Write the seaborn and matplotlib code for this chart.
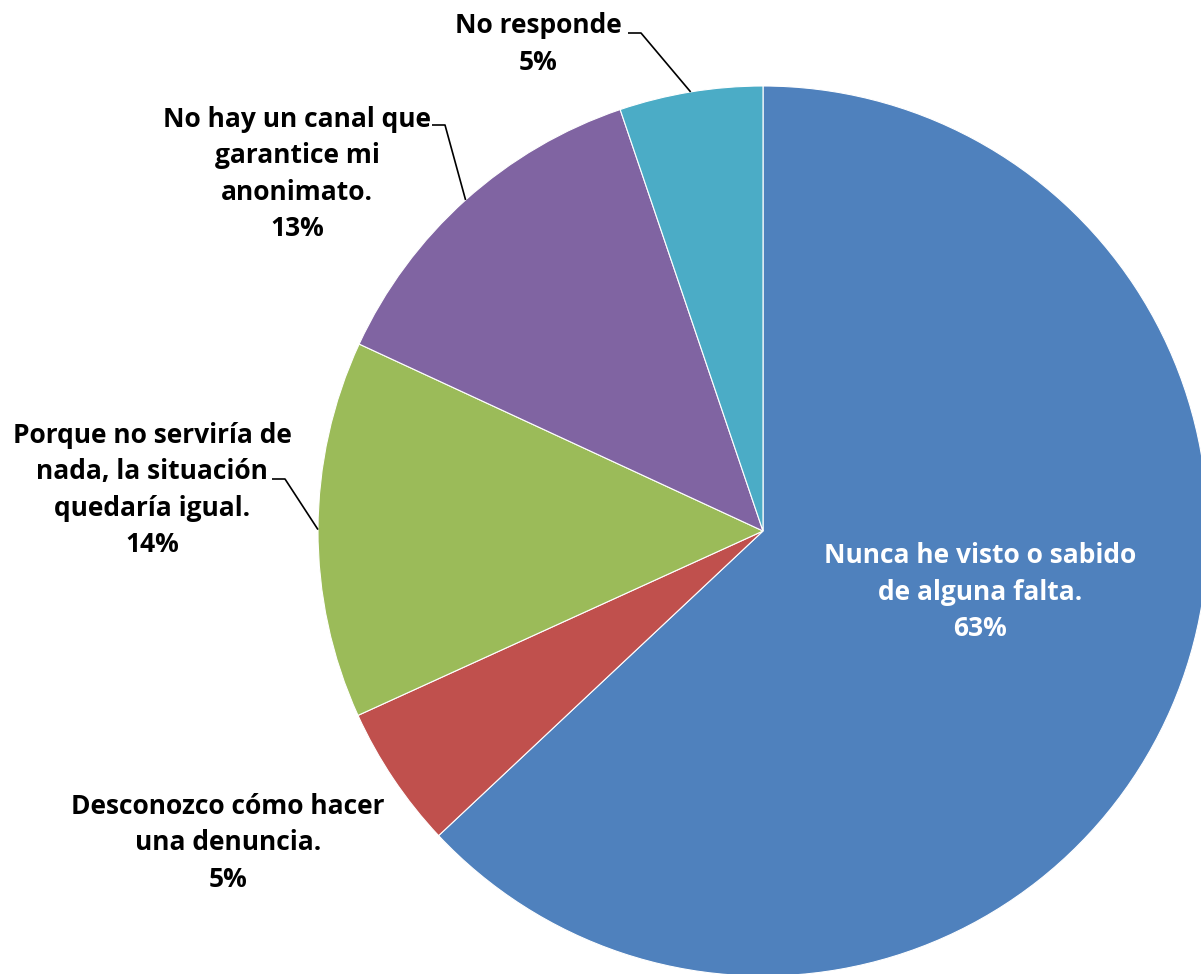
import numpy as np
import seaborn as sns
import matplotlib.pyplot as plt

sns.set_theme(style="white")
plt.rcParams["font.family"] = ["Open Sans", "DejaVu Sans"]

# data (clockwise from 12 o'clock)
categories = [
    "Nunca he visto o sabido\nde alguna falta.",
    "Desconozco cómo hacer\nuna denuncia.",
    "Porque no serviría de\nnada, la situación\nquedaría igual.",
    "No hay un canal que\ngarantice mi\nanonimato.",
    "No responde",
]
values = [63.0, 5.2, 13.7, 12.9, 5.2]
pct_labels = ["63%", "5%", "14%", "13%", "5%"]
colors = ["#4F81BD", "#C0504D", "#9BBB59", "#8064A2", "#4BACC6"]

W, H = 1201, 974
fig = plt.figure(figsize=(W / 100, H / 100), dpi=100)
ax = fig.add_axes([0, 0, 1, 1])

cx, cy, R = 763, H - 531, 445
wedges, _ = ax.pie(values, colors=colors, startangle=90, counterclock=False,
                   center=(cx, cy), radius=R, frame=True,
                   wedgeprops=dict(edgecolor="white", linewidth=0.8))
ax.set_xlim(0, W)
ax.set_ylim(0, H)
ax.set_aspect("equal")
ax.axis("off")

fs = 19
# label placement in pixel coords (x, y from top), leader line start (x, y from top) or None
label_pos = [(980, 592), (228, 843), (152, 490), (297, 174), (538, 44)]
leader_start = [None, None, (272, 479), (432, 125), (628, 33)]

for i, w in enumerate(wedges):
    x, y = label_pos[i]
    txt = categories[i] + "\n" + pct_labels[i]
    ax.text(x, H - y, txt, ha="center", va="center", fontsize=fs,
            fontweight="bold", color="white" if i == 0 else "black",
            linespacing=1.45)
    if leader_start[i] is not None:
        mid = np.deg2rad((w.theta1 + w.theta2) / 2)
        ex, ey = cx + R * np.cos(mid), cy + R * np.sin(mid)
        sx, sy = leader_start[i]
        ax.plot([sx, sx + 13, ex], [H - sy, H - sy, ey], color="black", lw=1.2,
                solid_capstyle="butt")

fig.savefig("out.png", dpi=100)
